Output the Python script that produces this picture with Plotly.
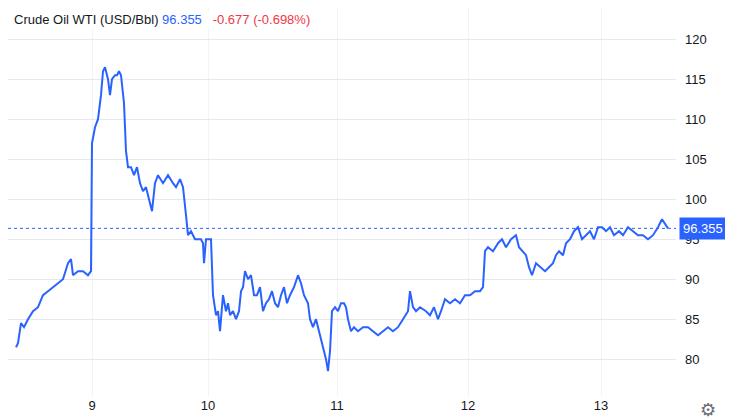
import plotly.graph_objects as go

# time index (chart position units), price values
t = [8, 10, 13, 16, 20, 25, 30, 35, 40, 45, 50, 55, 60, 63, 65, 70, 75, 80, 83,
     84, 87, 90, 93, 95, 97, 100, 102, 104, 107, 109, 111, 113, 116, 118, 120, 123,
     126, 129, 132, 135, 138, 141, 144, 147, 150, 155, 160, 165, 168, 172, 175, 178,
     180, 183, 187, 190, 193, 195, 196, 198, 201, 203, 205, 208, 210, 212, 215, 218,
     220, 222, 225, 228, 231, 233, 235, 237, 240, 243, 246, 249, 252, 255, 258, 261,
     264, 267, 270, 273, 276, 279, 282, 286, 290, 293, 296, 298, 300, 302, 305, 308,
     311, 314, 318, 320, 322, 324, 327, 330, 333, 336, 338, 340, 343, 346, 350, 355,
     360, 365, 370, 375, 380, 385, 390, 395, 400, 402, 405, 408, 412, 418, 422, 426,
     430, 433, 437, 442, 447, 452, 457, 462, 467, 472, 475, 477, 480, 485, 490, 494,
     498, 503, 508, 511, 515, 518, 521, 524, 528, 532, 537, 541, 545, 548, 551, 555,
     558, 562, 566, 570, 574, 578, 582, 586, 590, 594, 598, 602, 606, 611, 615, 620,
     625, 630, 635, 640, 645, 650, 654, 657, 660]
price = [81.5, 82, 84.5, 84, 85, 86, 86.5, 88, 88.5, 89, 89.5, 90, 92, 92.5, 90.5, 91, 91, 90.5, 91,
         107, 109, 110, 113, 116, 116.5, 115, 113, 115, 115.5, 115.5, 116, 115.5, 112, 106, 104, 104,
         103, 104, 102, 101, 101.5, 100, 98.5, 102, 103, 102, 103, 102, 101.5, 102.5, 101.5, 98,
         95.5, 96, 95, 95, 95, 94.5, 92, 95, 95, 95, 88, 85.5, 86, 83.5, 88, 86,
         87, 85.5, 86, 85, 86, 88.5, 89, 91, 90, 90.5, 88, 88, 89, 86, 87, 87.5,
         88.5, 87, 86.5, 88, 89, 87, 88, 89, 90.5, 89.5, 88, 87.5, 87, 85, 84, 85,
         83.5, 82, 80, 78.5, 81, 86, 86.5, 86, 87, 87, 86.5, 85, 83.5, 84, 83.5, 84,
         84, 83.5, 83, 83.5, 84, 83.5, 84, 85, 86, 88.5, 86.5, 86, 86.5, 86, 85.5, 86.5,
         85, 86, 87.5, 87, 87.5, 87, 88, 88, 88.5, 88.5, 89, 93.5, 94, 93.5, 94.5, 95,
         94, 95, 95.5, 94, 93.5, 93, 91.5, 90.5, 92, 91.5, 91, 91.5, 92, 93, 93.5, 93,
         94.5, 95, 96, 96.5, 95, 95.5, 96, 95, 96.5, 96.5, 96, 96.5, 95.5, 96, 95.5, 96.5,
         96, 95.5, 95.5, 95, 95.5, 96.5, 97.5, 97, 96.355]
day_pos = [84, 200, 329, 460, 593]
day_labels = ["9", "10", "11", "12", "13"]
last = 96.355

blue = "#2962ff"
fig = go.Figure(go.Scatter(x=t, y=price, mode="lines", line=dict(color=blue, width=2),
                           hoverinfo="skip"))

fig.add_hline(y=last, line=dict(color=blue, width=1, dash="dot"))
fig.add_annotation(x=1, xref="paper", xanchor="left", y=last, yref="y",
                   text="96.355", showarrow=False, bgcolor=blue,
                   font=dict(color="white", size=13), borderpad=3, xshift=3)
fig.add_annotation(x=0, xref="paper", y=1, yref="paper", xanchor="left", yanchor="top",
                   text="Crude Oil WTI (USD/Bbl) <span style='color:#2962ff'>96.355</span>"
                        "   <span style='color:#f23645'>-0.677 (-0.698%)</span>",
                   showarrow=False, bgcolor="white", font=dict(size=13, color="#131722"),
                   xshift=4, yshift=-2)
fig.add_annotation(x=1, xref="paper", y=0, yref="paper", xanchor="left", yanchor="top",
                   text="⚙", showarrow=False, font=dict(size=18, color="#6a6d78"),
                   xshift=22, yshift=-2)

fig.update_layout(
    width=733, height=418, margin=dict(l=0, r=65, t=0, b=30),
    paper_bgcolor="white", plot_bgcolor="white", showlegend=False,
    font=dict(family="Arial, Liberation Sans", color="#131722"),
    xaxis=dict(range=[0, 668], tickvals=day_pos, ticktext=day_labels, showgrid=True,
               gridcolor="#f0f3fa", zeroline=False, showline=False, ticks="",
               tickfont=dict(size=13)),
    yaxis=dict(side="right", range=[75.4, 123.9], tickvals=[80, 85, 90, 95, 100, 105, 110, 115, 120],
               gridcolor="#e6e8ec", zeroline=False, showline=False, ticks="",
               tickfont=dict(size=13), ticklabelstandoff=8),
)
fig.write_html("out.html")
